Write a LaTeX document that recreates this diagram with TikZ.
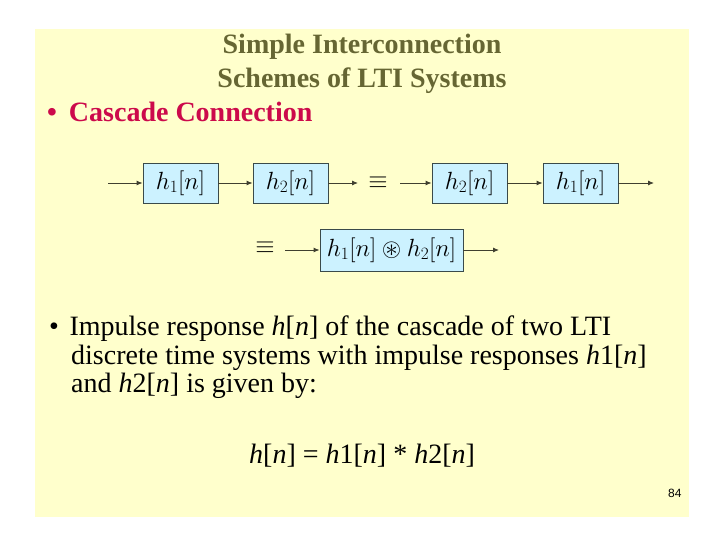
\documentclass[tikz,border=0pt]{standalone}
\usepackage{fontspec}
\usepackage{amssymb}
\setmainfont{Liberation Serif}
\newfontfamily\numfont{Liberation Sans}
\usetikzlibrary{arrows.meta}
\definecolor{bgyellow}{HTML}{FFFFCC}
\definecolor{titleol}{HTML}{666633}
\definecolor{casc}{HTML}{CC0A4B}
\definecolor{boxfill}{HTML}{CCF2FF}
\definecolor{boxline}{HTML}{3A4A4A}
\definecolor{arrcol}{HTML}{404030}
\begin{document}
\begin{tikzpicture}[x=1pt,y=-1pt,
  sysbox/.style={draw=boxline,fill=boxfill,line width=0.9pt,inner sep=0pt,minimum height=40pt,font=\fontsize{25}{29}\selectfont},
  conn/.style={draw=arrcol,line width=0.9pt,-{Latex[length=6pt,width=5pt]}},
  equiv/.style={inner sep=0pt,font=\fontsize{28}{32}\selectfont},
  txt/.style={anchor=base west,inner sep=0pt,font=\fontsize{28}{34}\selectfont},
  ttl/.style={anchor=base,inner sep=0pt,font=\fontsize{28}{34}\selectfont\bfseries,text=titleol}]
\useasboundingbox (0,0) rectangle (720,540);
\fill[white] (0,0) rectangle (720,540);
\fill[bgyellow] (35,29) rectangle (689,517);
% titles
\node[ttl] (t1) at (362,54) {Simple Interconnection};
\node[ttl] (t2) at (362,88) {Schemes of LTI Systems};
\node[txt,font=\fontsize{28}{34}\selectfont\bfseries,text=casc] (b1) at (47,122) {\textbullet\hspace{12pt}Cascade Connection};
% row 1
\node[sysbox,minimum width=75pt] (h1a) at (180.5,183) {$h_1[n]$};
\node[sysbox,minimum width=75pt] (h2a) at (290.5,183) {$h_2[n]$};
\node[equiv] (eq1) at (378,183) {$\equiv$};
\node[sysbox,minimum width=75pt] (h2b) at (469.5,183) {$h_2[n]$};
\node[sysbox,minimum width=75pt] (h1b) at (580.5,183) {$h_1[n]$};
\coordinate (in1) at (108,183);
\coordinate (o1) at (358,183);
\coordinate (in2) at (400,183);
\coordinate (o2) at (654,183);
\draw[conn] (in1) -- (h1a.west);
\draw[conn] (h1a.east) -- (h2a.west);
\draw[conn] (h2a.east) -- (o1);
\draw[conn] (in2) -- (h2b.west);
\draw[conn] (h2b.east) -- (h1b.west);
\draw[conn] (h1b.east) -- (o2);
% row 2
\node[equiv] (eq2) at (265,248) {$\equiv$};
\node[sysbox,minimum width=143pt,minimum height=42pt] (hc) at (391.5,250) {$h_1[n]\circledast h_2[n]$};
\coordinate (in3) at (285,250);
\coordinate (o3) at (499,250);
\draw[conn] (in3) -- (hc.west);
\draw[conn] (hc.east) -- (o3);
% body text
\node[txt] (l1) at (49,335) {\textbullet\hspace{10.5pt}Impulse response \textit{h}[\textit{n}] of the cascade of two LTI};
\node[txt] (l2) at (71,364) {discrete time systems with impulse responses \textit{h}1[\textit{n}]};
\node[txt] (l3) at (71,392) {and \textit{h}2[\textit{n}] is given by:};
\node[txt] (f) at (249,463) {\textit{h}[\textit{n}] = \textit{h}1[\textit{n}] * \textit{h}2[\textit{n}]};
\node[anchor=base west,inner sep=0pt,font=\numfont\fontsize{12}{14}\selectfont] (pg) at (668,497) {84};
\end{tikzpicture}
\end{document}
